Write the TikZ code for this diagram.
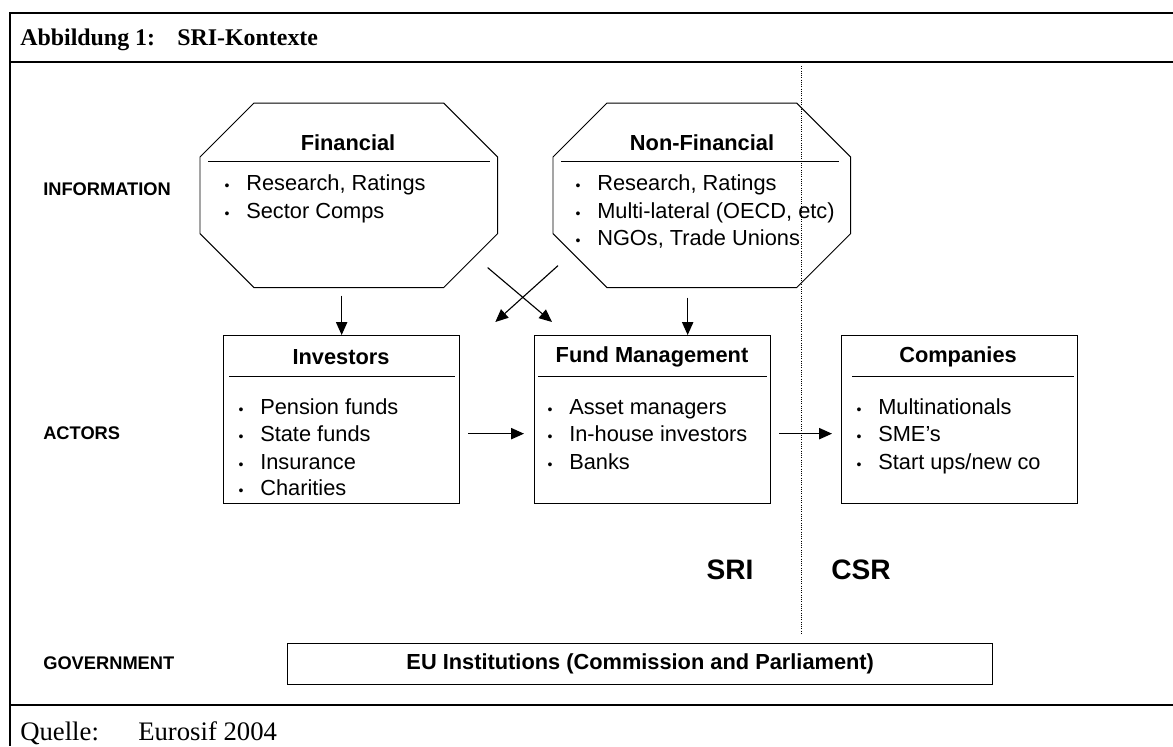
\documentclass[tikz,border=0pt]{standalone}
\usepackage{fontspec}
\setmainfont{Liberation Serif}
\setsansfont{Liberation Sans}
\usetikzlibrary{positioning,arrows.meta}

\newcommand{\bul}{\llap{{\fontsize{10}{10}\selectfont\textbullet}\hspace{0.42cm}}}

\begin{document}
\begin{tikzpicture}[x=0.025cm, y=-0.025cm,
    octa/.style={rectangle, minimum width=7.425cm, minimum height=4.6cm, anchor=north west, inner sep=0pt},
    box/.style={rectangle, draw, line width=0.9pt, minimum width=5.9cm, minimum height=4.2cm, anchor=north west, inner sep=0pt},
    title/.style={font=\sffamily\bfseries\fontsize{15.5}{18}\selectfont, inner sep=0pt},
    item/.style={font=\sffamily\fontsize{15.5}{18}\selectfont, anchor=west, inner sep=0pt, text height=1.6ex, text depth=0.4ex},
    level/.style={font=\sffamily\bfseries\fontsize{13}{16}\selectfont, anchor=west, inner sep=0pt},
    head/.style={font=\bfseries\fontsize{17}{20}\selectfont, anchor=base west, inner sep=0pt},
    foot/.style={font=\fontsize{19}{22}\selectfont, anchor=base west, inner sep=0pt},
    arr/.style={-{Triangle[length=0.32cm,width=0.28cm]}, line width=0.8pt}]

\useasboundingbox (0,0) rectangle (1173,746);

% Frame
\draw[line width=2pt] (1173,13) -- (10,13) -- (10,746);
\draw[line width=2pt] (10,62) -- (1173,62);
\draw[line width=2pt] (10,705) -- (1173,705);

\node[head] (abb) at (20,45) {Abbildung 1:};
\node[head] (ktx) at (177,45) {SRI-Kontexte};
\node[foot] (quelle) at (20,740) {Quelle:};
\node[foot] (src) at (138,740) {Eurosif 2004};

% Row labels
\node[level] (information) at (43,189) {INFORMATION};
\node[level] (actors) at (43,433) {ACTORS};
\node[level] (government) at (43,663) {GOVERNMENT};

% Information octagons
\node[octa] (fin) at (200,103) {};
\draw[line width=0.7pt] ([xshift=1.35cm]fin.north west) -- ([xshift=-1.35cm]fin.north east) -- ([yshift=-1.35cm]fin.north east) -- ([yshift=1.35cm]fin.south east) -- ([xshift=-1.35cm]fin.south east) -- ([xshift=1.35cm]fin.south west) -- ([yshift=1.35cm]fin.south west) -- ([yshift=-1.35cm]fin.north west) -- cycle;
\draw[line width=0.7pt] ([shift={(8,58)}]fin.north west) -- ([shift={(-8,58)}]fin.north east);
\node[title] (fintitle) at (348,143) {Financial};
\node[item] (fin1) at (246,187) {\bul Research, Ratings};
\node[item] (fin2) at (246,215) {\bul Sector Comps};

\node[octa] (nonfin) at (553,103) {};
\draw[line width=0.7pt] ([xshift=1.35cm]nonfin.north west) -- ([xshift=-1.35cm]nonfin.north east) -- ([yshift=-1.35cm]nonfin.north east) -- ([yshift=1.35cm]nonfin.south east) -- ([xshift=-1.35cm]nonfin.south east) -- ([xshift=1.35cm]nonfin.south west) -- ([yshift=1.35cm]nonfin.south west) -- ([yshift=-1.35cm]nonfin.north west) -- cycle;
\draw[line width=0.7pt] ([shift={(8,58)}]nonfin.north west) -- ([shift={(-12,58)}]nonfin.north east);
\node[title] (nonfintitle) at (702,143) {Non-Financial};
\node[item] (nonfin1) at (597,187) {\bul Research, Ratings};
\node[item] (nonfin2) at (597,215) {\bul Multi-lateral (OECD, etc)};
\node[item] (nonfin3) at (597,242) {\bul NGOs, Trade Unions};

% Actors
\node[box] (inv) at (223,335) {};
\draw[line width=0.7pt] ([shift={(6,41)}]inv.north west) -- ([shift={(-5,41)}]inv.north east);
\node[title] (invtitle) at (341,357) {Investors};
\node[item] (inv1) at (260,411) {\bul Pension funds};
\node[item] (inv2) at (260,438) {\bul State funds};
\node[item] (inv3) at (260,466) {\bul Insurance};
\node[item] (inv4) at (260,492) {\bul Charities};

\node[box] (fund) at (534,335) {};
\draw[line width=0.7pt] ([shift={(4,41)}]fund.north west) -- ([shift={(-4,41)}]fund.north east);
\node[title] (fundtitle) at (652,357) {Fund Management};
\node[item] (fund1) at (569,411) {\bul Asset managers};
\node[item] (fund2) at (569,438) {\bul In-house investors};
\node[item] (fund3) at (569,466) {\bul Banks};

\node[box] (comp) at (841,335) {};
\draw[line width=0.7pt] ([shift={(11,41)}]comp.north west) -- ([shift={(-4,41)}]comp.north east);
\node[title] (comptitle) at (958,357) {Companies};
\node[item] (comp1) at (878,411) {\bul Multinationals};
\node[item] (comp2) at (878,438) {\bul SME's};
\node[item] (comp3) at (878,466) {\bul Start ups/new co};

% SRI / CSR split
\draw[densely dotted, line width=0.6pt] (801,66) -- (801,633);
\node[title, font=\sffamily\bfseries\fontsize{20}{24}\selectfont] (sri) at (730,570) {SRI};
\node[title, font=\sffamily\bfseries\fontsize{20}{24}\selectfont] (csr) at (861,570) {CSR};

% Government
\node[box, minimum width=17.625cm, minimum height=1.025cm] (eu) at (287,643) {};
\node[title] (eutitle) at (eu.center) {EU Institutions (Commission and Parliament)};

% Connections
\draw[arr] (inv.north |- fin.south) ++(0,8) -- (inv.north);
\draw[arr] ([xshift=0.875cm]fund.north |- nonfin.south) ++(0,10) -- ([xshift=0.875cm]fund.north);
\draw[arr] ([shift={(-10,-20)}]fin.south east) -- ([shift={(18,-13)}]fund.north west);
\draw[arr] ([shift={(5,-22)}]nonfin.south west) -- ([shift={(35,-13)}]inv.north east);
\draw[arr] ([shift={(8,14)}]inv.east) -- ([shift={(-10,14)}]fund.west);
\draw[arr] ([shift={(8,14)}]fund.east) -- ([shift={(-9,14)}]comp.west);

\end{tikzpicture}
\end{document}
